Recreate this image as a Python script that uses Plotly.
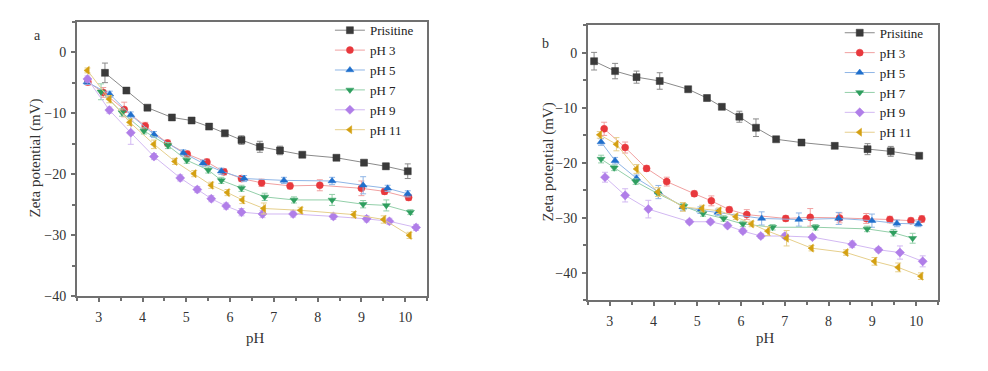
import plotly.graph_objects as go

# ---------------- data ----------------
series_names = ["Prisitine", "pH 3", "pH 5", "pH 7", "pH 9", "pH 11"]
colors = ["#3a3a3a", "#e8383d", "#1f6fcc", "#2e9e5e", "#b07ee8", "#d4a012"]
line_colors = ["#8a8a8a", "#f0a0a0", "#8fb5e6", "#93cfa9", "#d2b8f2", "#e6cf8c"]
symbols = ["square", "circle", "triangle-up", "triangle-down", "diamond", "triangle-left"]

# Panel a
a_pristine_x = [3.14, 3.63, 4.11, 4.67, 5.12, 5.52, 5.88, 6.26, 6.68, 7.14, 7.65, 8.43, 9.06, 9.56, 10.06]
a_pristine_y = [-3.4, -6.3, -9.1, -10.7, -11.2, -12.2, -13.3, -14.4, -15.5, -16.1, -16.8, -17.3, -18.1, -18.7, -19.5]
a_pristine_e = [1.6, 0.4, 0.4, 0.4, 0.4, 0.4, 0.4, 0.7, 0.9, 0.7, 0.4, 0.4, 0.4, 0.5, 1.2]

a_ph3_x = [2.75, 3.1, 3.58, 4.06, 4.57, 5.02, 5.47, 5.86, 6.26, 6.72, 7.37, 8.05, 9.0, 9.53, 10.08]
a_ph3_y = [-4.9, -6.6, -9.4, -12.1, -14.9, -16.7, -18.0, -19.6, -20.7, -21.4, -21.9, -21.8, -22.3, -22.8, -23.8]
a_ph3_e = [0.5, 0.8, 1.2, 0.6, 0.5, 0.5, 0.5, 0.5, 0.5, 0.6, 0.5, 0.9, 1.2, 0.5, 0.5]

a_ph5_x = [2.73, 3.25, 3.73, 4.26, 4.93, 5.38, 5.8, 6.32, 7.23, 8.33, 9.04, 9.6, 10.06]
a_ph5_y = [-4.9, -6.9, -10.3, -13.5, -16.5, -18.2, -19.5, -20.7, -21.0, -21.1, -21.8, -22.3, -23.2]
a_ph5_e = [0.4, 0.5, 0.5, 0.5, 0.5, 0.5, 0.5, 0.5, 0.5, 0.6, 1.4, 0.5, 0.5]

a_ph7_x = [3.05, 3.53, 4.03, 4.58, 5.01, 5.5, 5.8, 6.26, 6.79, 7.46, 8.33, 9.04, 9.57, 10.12]
a_ph7_y = [-6.5, -9.9, -12.9, -15.3, -17.7, -19.3, -21.0, -22.3, -23.7, -24.2, -24.2, -24.9, -25.1, -26.2]
a_ph7_e = [1.3, 0.6, 0.5, 0.5, 0.5, 0.5, 0.5, 0.5, 0.6, 0.5, 0.9, 0.6, 0.9, 0.4]

a_ph9_x = [2.74, 3.24, 3.73, 4.26, 4.86, 5.25, 5.57, 5.91, 6.26, 6.74, 7.44, 8.36, 9.12, 9.64, 10.25]
a_ph9_y = [-4.4, -9.5, -13.2, -17.1, -20.6, -22.5, -24.0, -25.2, -26.2, -26.5, -26.5, -26.9, -27.3, -27.7, -28.7]
a_ph9_e = [0.5, 0.5, 1.9, 0.5, 0.5, 0.5, 0.5, 0.5, 0.6, 0.6, 0.5, 0.5, 0.5, 0.5, 0.5]

a_ph11_x = [2.74, 3.24, 3.71, 4.26, 4.74, 5.18, 5.57, 5.94, 6.28, 6.77, 7.61, 8.83, 9.51, 10.1]
a_ph11_y = [-3.0, -7.7, -11.5, -15.1, -17.9, -19.9, -21.8, -23.0, -24.2, -25.6, -25.9, -26.6, -27.4, -30.0]
a_ph11_e = [0.4, 0.6, 0.5, 0.7, 0.5, 0.5, 0.5, 0.5, 0.6, 0.9, 0.5, 0.5, 0.6, 0.5]

# Panel b
b_pristine_x = [2.64, 3.12, 3.61, 4.14, 4.79, 5.22, 5.56, 5.96, 6.34, 6.8, 7.38, 8.14, 8.89, 9.42, 10.07]
b_pristine_y = [-1.5, -3.3, -4.4, -5.1, -6.6, -8.2, -9.8, -11.6, -13.6, -15.7, -16.3, -16.9, -17.5, -17.9, -18.7]
b_pristine_e = [1.6, 1.4, 1.1, 1.5, 0.4, 0.5, 0.4, 1.0, 1.6, 0.4, 0.4, 0.4, 1.0, 0.9, 0.4]

b_ph3_x = [2.87, 3.35, 3.84, 4.3, 4.93, 5.32, 5.73, 6.13, 7.02, 7.58, 8.25, 8.86, 9.4, 9.88, 10.13]
b_ph3_y = [-13.8, -17.2, -21.0, -23.4, -25.6, -26.9, -28.5, -29.4, -30.1, -29.9, -30.0, -30.1, -30.3, -30.5, -30.2]
b_ph3_e = [1.2, 1.0, 0.5, 0.8, 0.5, 0.9, 0.5, 0.9, 0.5, 1.6, 0.9, 0.9, 0.6, 0.5, 0.6]

b_ph5_x = [2.8, 3.12, 3.61, 4.11, 4.67, 5.07, 5.47, 6.47, 7.32, 8.23, 8.99, 9.56, 10.05]
b_ph5_y = [-16.2, -19.6, -22.8, -25.3, -28.0, -28.6, -29.0, -30.1, -30.3, -30.1, -30.5, -31.0, -31.1]
b_ph5_e = [0.6, 0.6, 0.6, 1.2, 0.7, 0.6, 0.6, 1.2, 1.2, 1.1, 1.2, 0.6, 0.5]

b_ph7_x = [2.8, 3.1, 3.59, 4.1, 4.69, 5.13, 5.6, 6.04, 6.72, 7.7, 8.88, 9.48, 9.92]
b_ph7_y = [-19.3, -20.9, -23.4, -25.6, -27.9, -29.2, -30.1, -31.1, -31.7, -31.7, -32.0, -32.7, -33.7]
b_ph7_e = [0.7, 0.5, 0.5, 0.5, 0.5, 0.5, 0.5, 0.5, 0.5, 0.5, 0.5, 0.6, 0.9]

b_ph9_x = [2.89, 3.35, 3.88, 4.82, 5.3, 5.69, 6.04, 6.45, 7.0, 7.63, 8.54, 9.14, 9.63, 10.15]
b_ph9_y = [-22.6, -25.9, -28.4, -30.7, -30.7, -31.4, -32.4, -33.3, -33.3, -33.5, -34.8, -35.8, -36.3, -37.9]
b_ph9_e = [0.9, 1.2, 1.6, 0.4, 0.4, 0.4, 0.4, 0.4, 0.4, 0.4, 0.6, 0.4, 1.2, 1.0]

b_ph11_x = [2.77, 3.15, 3.61, 4.1, 4.67, 5.11, 5.5, 5.88, 6.24, 6.61, 7.04, 7.61, 8.4, 9.05, 9.59, 10.11]
b_ph11_y = [-14.9, -16.6, -21.1, -25.3, -28.0, -28.3, -28.7, -29.8, -31.1, -32.4, -33.7, -35.5, -36.3, -37.9, -39.0, -40.6]
b_ph11_e = [0.6, 1.2, 0.8, 0.8, 0.8, 0.6, 0.5, 0.5, 0.5, 0.8, 1.4, 0.5, 0.5, 0.7, 0.8, 0.6]

panel_a = [(a_pristine_x, a_pristine_y, a_pristine_e), (a_ph3_x, a_ph3_y, a_ph3_e),
           (a_ph5_x, a_ph5_y, a_ph5_e), (a_ph7_x, a_ph7_y, a_ph7_e),
           (a_ph9_x, a_ph9_y, a_ph9_e), (a_ph11_x, a_ph11_y, a_ph11_e)]
panel_b = [(b_pristine_x, b_pristine_y, b_pristine_e), (b_ph3_x, b_ph3_y, b_ph3_e),
           (b_ph5_x, b_ph5_y, b_ph5_e), (b_ph7_x, b_ph7_y, b_ph7_e),
           (b_ph9_x, b_ph9_y, b_ph9_e), (b_ph11_x, b_ph11_y, b_ph11_e)]

x_ticks = [3, 4, 5, 6, 7, 8, 9, 10]
a_y_ticks = [0, -10, -20, -30, -40]
b_y_ticks = [0, -10, -20, -30, -40]

FONT = "Liberation Serif"

fig = go.Figure()

for panel, (xa, ya, leg) in zip([panel_a, panel_b], [("x", "y", "legend"), ("x2", "y2", "legend2")]):
    for i, (xs, ys, es) in enumerate(panel):
        fig.add_trace(go.Scatter(
            x=xs, y=ys, mode="lines+markers", name=series_names[i],
            xaxis=xa, yaxis=ya, legend=leg,
            line=dict(color=line_colors[i], width=1),
            marker=dict(symbol=symbols[i], size=7, color=colors[i],
                        line=dict(color=colors[i], width=0.5)),
            error_y=dict(type="data", array=es, visible=True, color=line_colors[i],
                         thickness=1, width=3),
        ))

axis_common = dict(showgrid=False, zeroline=False, showline=True, linecolor="#707070",
                   linewidth=2, mirror=True, ticks="outside", ticklen=4, tickwidth=1.5,
                   tickcolor="#707070",
                   tickfont=dict(family=FONT, size=14, color="#333333"))
xminor = dict(dtick=0.5, tick0=2.5, ticks="outside", ticklen=3, tickcolor="#707070")
yminor = dict(dtick=5, tick0=0, ticks="outside", ticklen=3, tickcolor="#707070")

fig.update_layout(
    width=988, height=371,
    margin=dict(l=0, r=0, t=0, b=0),
    paper_bgcolor="white", plot_bgcolor="white",
    font=dict(family=FONT, color="#333333"),
    showlegend=True,
    xaxis=dict(domain=[0.0779, 0.4322], range=[2.5, 10.5], tickvals=x_ticks, anchor="y",
               minor=xminor, ticklabelstandoff=3, **axis_common),
    yaxis=dict(domain=[0.1833, 0.9407], range=[-40, 5], tickvals=a_y_ticks, anchor="x",
               minor=yminor, ticklabelstandoff=2, **axis_common),
    xaxis2=dict(domain=[0.5951, 0.9494], range=[2.5, 10.5], tickvals=x_ticks, anchor="y2",
                minor=xminor, ticklabelstandoff=3, **axis_common),
    yaxis2=dict(domain=[0.1725, 0.9299], range=[-45, 5], tickvals=b_y_ticks, anchor="x2",
                minor=yminor, ticklabelstandoff=2, **axis_common),
    legend=dict(x=0.424, xanchor="right", y=0.958, yanchor="top", bgcolor="rgba(0,0,0,0)",
                font=dict(family=FONT, size=13, color="#222222"), tracegroupgap=0),
    legend2=dict(x=0.94, xanchor="right", y=0.951, yanchor="top", bgcolor="rgba(0,0,0,0)",
                 font=dict(family=FONT, size=13, color="#222222"), tracegroupgap=0),
)

annots = [
    dict(text="Zeta potential (mV)", x=36 / 988, y=1 - 162 / 371, textangle=-90, size=15),
    dict(text="Zeta potential (mV)", x=548 / 988, y=1 - 166 / 371, textangle=-90, size=15),
    dict(text="pH", x=255 / 988, y=1 - 345 / 371, size=15),
    dict(text="pH", x=765 / 988, y=1 - 345 / 371, size=15),
    dict(text="a", x=37 / 988, y=1 - 36 / 371, size=14),
    dict(text="b", x=545 / 988, y=1 - 44 / 371, size=14),
]
for a in annots:
    sz = a.pop("size")
    fig.add_annotation(xref="paper", yref="paper", showarrow=False,
                       xanchor="center", yanchor="middle",
                       font=dict(family=FONT, size=sz, color="#333333"), **a)

fig.write_html("out.html", config={"displayModeBar": False},
               post_script="document.body.style.margin = '0px';")
